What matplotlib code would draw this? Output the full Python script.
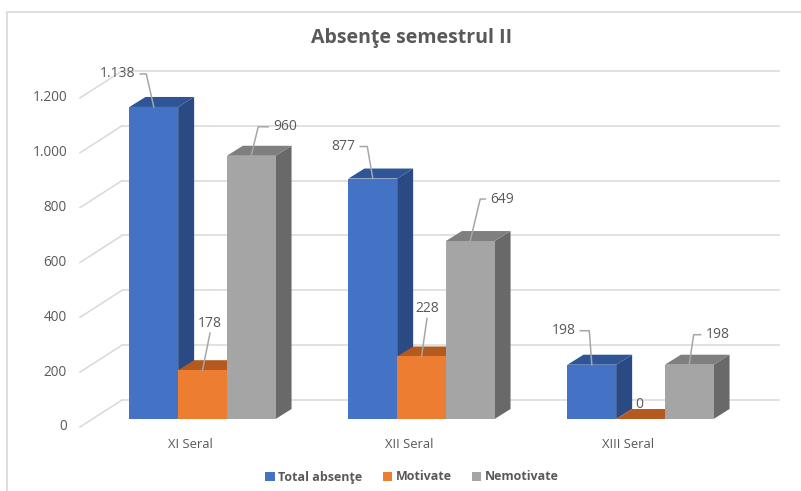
import matplotlib
matplotlib.use('Agg')
import matplotlib.pyplot as plt
from matplotlib.patches import Polygon, Rectangle, Patch

# data
categories = ['XI Seral', 'XII Seral', 'XIII Seral']
series_names = ['Total absenţe', 'Motivate', 'Nemotivate']
total = [1138, 877, 198]
motivate = [178, 228, 0]
nemotivate = [960, 649, 198]
yticks = [0, 200, 400, 600, 800, 1000, 1200]

series_values = [total, motivate, nemotivate]
front_colors = ['#4472C4', '#ED7D31', '#A5A5A5']
top_colors = ['#2F5597', '#B4591F', '#7F7F7F']
side_colors = ['#2A4A84', '#A0501C', '#696969']
TEXT = '#595959'

plt.rcParams['font.family'] = ['Open Sans', 'DejaVu Sans']


def fmt(v):
    # thousands separator as in the original (1.138)
    return f'{v:,}'.replace(',', '.')


# pixel geometry of the 3D projection
W, H = 801, 491
GROUP_PX = 219.0      # distance between categories
VAL_PX = 0.2742       # pixels per unit of value
BASE_Y = 419.0        # pixel row of value 0 on the bar fronts
ORIGIN_X = 202.5      # pixel column of the first category centre
PX = 1 / GROUP_PX     # one pixel in x data units
PV = 1 / VAL_PX       # one pixel in value units

BAR_W = 48.7 * PX
DX, DY = 16 * PX, 10 * PV          # bar depth
WALL_DY = 19 * PV                  # back wall offset above bar fronts
WALL_X0, WALL_X1 = (122 - ORIGIN_X) * PX, (779 - ORIGIN_X) * PX
SIDE_X0 = (80 - ORIGIN_X) * PX
LABEL_X = (67 - ORIGIN_X) * PX
LABEL_DY = -8 * PV

# leader lines for data labels: (dx to elbow, rise to elbow, horizontal run) in px
leaders = [
    [(-7.5, 33, -6), (-5.5, 32, -7), (-2.5, 34, -9)],
    [(7.5, 37, 0), (5.5, 38, 0), None],
    [(7, 29, 10), (10, 42, 5), (4.5, 30, 7)],
]

fig = plt.figure(figsize=(W / 100, H / 100), dpi=100)
ax = fig.add_axes([0, 0, 1, 1])
ax.set_xlim(-ORIGIN_X * PX, (W - ORIGIN_X) * PX)
ax.set_ylim(-(H - BASE_Y) * PV, BASE_Y * PV)
ax.axis('off')

# chart frame
fig.patches.append(Rectangle((7 / W, -0.1), 1.0, 1.1 - 12 / H, transform=fig.transFigure,
                             fill=False, edgecolor='#D9D9D9', lw=1.2))

# back wall gridlines, side wall lines and tick labels
for v in yticks:
    ax.plot([WALL_X0, WALL_X1], [v + WALL_DY, v + WALL_DY], color='#D9D9D9', lw=1.1, zorder=1)
    ax.plot([SIDE_X0, WALL_X0], [v + LABEL_DY, v + WALL_DY], color='#D9D9D9', lw=1.1, zorder=1)
    ax.text(LABEL_X, v + LABEL_DY, fmt(v), ha='right', va='center',
            fontsize=9.8, color=TEXT)

z = 2
for g, cat in enumerate(categories):
    for s, vals in enumerate(series_values):
        v = vals[g]
        xl = g + (s - 1.5) * BAR_W
        side = [(xl + BAR_W, 0), (xl + BAR_W + DX, DY), (xl + BAR_W + DX, v + DY), (xl + BAR_W, v)]
        top = [(xl, v), (xl + BAR_W, v), (xl + BAR_W + DX, v + DY), (xl + DX, v + DY)]
        ax.add_patch(Polygon(side, closed=True, facecolor=side_colors[s], edgecolor='none', zorder=z))
        ax.add_patch(Polygon(top, closed=True, facecolor=top_colors[s], edgecolor='none', zorder=z))
        ax.add_patch(Rectangle((xl, 0), BAR_W, v, facecolor=front_colors[s], edgecolor='none', zorder=z))
        z += 1

    ax.text(g - 12.5 * PX, -26 * PV, cat, ha='center', va='center', fontsize=9.4, color=TEXT)

# data labels
for s, vals in enumerate(series_values):
    for g, v in enumerate(vals):
        xc = g + (s - 1) * BAR_W
        label = fmt(v)
        ld = leaders[s][g]
        if ld is None:
            ax.text(xc - 1 * PX, v + 14 * PV, label, ha='center', va='center',
                    fontsize=10, color=TEXT, zorder=50)
            continue
        ex, rise, run = ld
        xe, ye = xc + ex * PX, v + rise * PV
        ax.plot([xc, xe, xe + run * PX], [v, ye, ye], color='#A6A6A6', lw=1.1, zorder=40)
        if run < 0:
            ax.text(xe + (run - 5) * PX, ye, label, ha='right', va='center',
                    fontsize=10, color=TEXT, zorder=50)
        elif run > 0:
            ax.text(xe + (run + 5) * PX, ye, label, ha='left', va='center',
                    fontsize=10, color=TEXT, zorder=50)
        else:
            ax.text(xe, ye + 10 * PV, label, ha='center', va='center',
                    fontsize=10, color=TEXT, zorder=50)

fig.text(412 / W, 1 - 38 / H, 'Absenţe semestrul II', ha='center', va='center',
         fontsize=14, fontweight='bold', color=TEXT)

handles = [Patch(facecolor=c, edgecolor='none') for c in front_colors]
fig.legend(handles, series_names, loc='center', bbox_to_anchor=(412 / W, 1 - 477 / H),
           ncol=3, frameon=False, handlelength=0.75, handleheight=0.75, handletextpad=0.3,
           columnspacing=1.6, prop={'size': 9, 'weight': 'bold'}, labelcolor=TEXT)

fig.savefig('out.png', dpi=100)
